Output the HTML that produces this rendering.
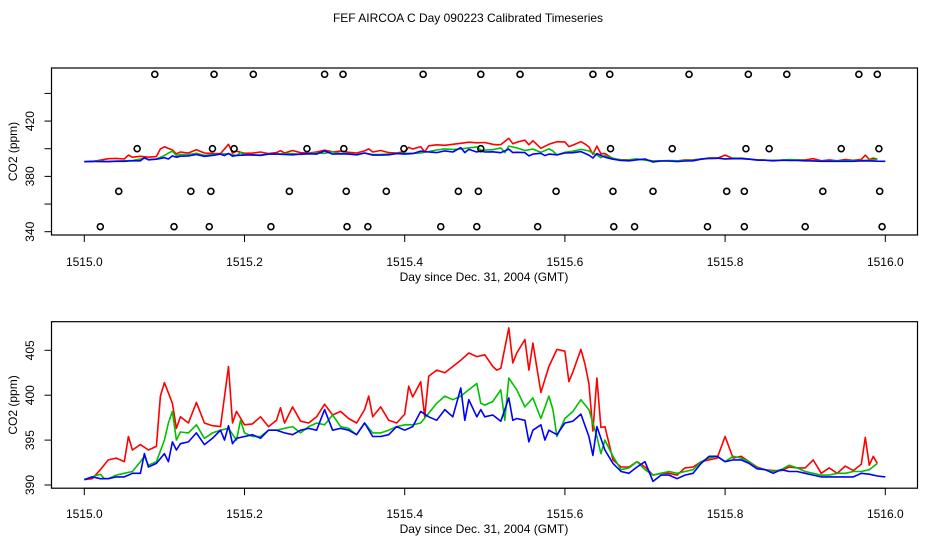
<!DOCTYPE html>
<html><head><meta charset="utf-8"><style>
body{margin:0;background:#fff;}
svg{display:block;font-family:"Liberation Sans",sans-serif;}
</style></head><body>
<svg id="chart" width="936" height="540" viewBox="0 0 936 540">
<text x="468" y="22" text-anchor="middle" font-size="12">FEF AIRCOA C  Day 090223  Calibrated Timeseries</text>
<g id="top"></g>
<g id="bot"></g>
</svg>
<script>
// x tick values
const xTicks = [1515.0, 1515.2, 1515.4, 1515.6, 1515.8, 1516.0];
const topYTicks = [340, 360, 380, 400, 420, 440];
const topYLabels = [340, 380, 420];
const botYTicks = [390, 395, 400, 405];
// flag circles in top panel (day offset from 1515)
const flagDays1 = [.088,.162,.211,.300,.323,.423,.495,.544,.635,.656,.755,.829,.877,.967,.990];
const flagVal1 = 453.8;
const flagDays2 = [.066,.160,.187,.278,.324,.399,.495,.657,.734,.826,.855,.945,.992];
const flagVal2 = 400;
const flagDays3 = [.043,.133,.158,.256,.327,.377,.467,.492,.589,.660,.710,.802,.824,.922,.993];
const flagVal3 = 369.2;
const flagDays4 = [.020,.112,.156,.233,.328,.354,.445,.490,.566,.661,.687,.778,.824,.900,.996];
const flagVal4 = 343.6;
// series (day offset, ppm)
const redDays = [0,.01,.02,.03,.04,.05,.055,.06,.07,.08,.09,.095,.10,.11,.115,.12,.13,.14,.15,.16,.17,.18,.185,.19,.20,.21,.22,.23,.24,.245,.25,.26,.27,.28,.29,.30,.31,.32,.33,.34,.35,.355,.36,.37,.38,.39,.40,.405,.41,.42,.425,.43,.44,.45,.46,.47,.48,.49,
 .50,.51,.515,.52,.53,.535,.54,.55,.555,.56,.57,.58,.59,.60,.605,.61,.62,.625,.63,.635,.64,.645,.65,.66,.67,.68,.69,.70,.71,.72,.73,.74,.75,.76,.77,.78,.79,.80,.81,.82,.83,.84,.85,.86,.87,.88,.89,.90,.91,.92,.93,.94,.95,.96,.97,.975,.98,.985,.99];
const redVals = [390.6,390.7,391.7,392.8,393.0,392.6,395.4,393.9,394.5,393.9,394.3,399.9,401.4,399.1,396.3,397.6,396.9,399.2,396.9,396.6,396.5,403.2,396.9,398.2,396.7,396.8,397.6,396.5,397.2,398.6,396.9,398.7,397.1,396.9,397.6,399.0,397.8,398.2,397.4,396.9,398.4,399.9,397.6,398.7,397.2,396.9,397.9,401.0,399.8,401.5,397.6,402.1,402.8,402.5,403.2,403.9,404.7,404.3,
 404.5,403.2,402.8,403.0,407.5,403.6,404.7,406.2,402.8,405.8,400.3,403.2,405.1,404.9,401.5,402.6,405.1,403.5,401.3,396.0,401.9,396.4,396.5,392.8,392.0,392.0,392.6,392.0,391.1,391.3,391.3,391.1,391.9,392.0,392.6,392.8,393.0,395.4,393.0,393.2,392.6,392.0,391.7,391.6,391.6,392.0,391.9,391.9,392.8,391.3,391.9,391.3,392.1,391.6,392.3,395.3,392.2,393.2,392.4];
const greenDays = [0,.01,.02,.025,.03,.04,.05,.06,.07,.075,.08,.09,.10,.105,.11,.115,.12,.13,.14,.15,.16,.17,.18,.19,.195,.20,.21,.22,.23,.24,.25,.26,.27,.28,.29,.30,.31,.32,.33,.34,.35,.36,.37,.38,.39,.40,.41,.42,.43,.44,.45,.46,.47,.48,.49,.495,
 .50,.51,.52,.525,.53,.54,.55,.56,.57,.58,.585,.59,.60,.61,.62,.63,.64,.645,.65,.66,.67,.68,.69,.70,.71,.72,.73,.74,.75,.76,.77,.78,.79,.80,.81,.82,.83,.84,.85,.86,.87,.88,.89,.90,.91,.92,.93,.94,.95,.96,.97,.98,.99];
const greenVals = [390.6,390.9,391.2,390.7,390.7,391.1,391.3,391.5,392.6,393.2,392.2,392.6,395.0,396.9,398.2,395.0,395.9,395.8,396.7,395.2,395.8,396.1,396.3,395.0,397.2,395.8,395.4,395.4,396.1,396.1,396.3,396.5,395.8,396.5,396.9,396.7,397.8,396.5,396.3,395.6,396.9,395.8,395.8,396.1,396.5,396.7,396.7,396.9,398.0,399.1,399.9,399.5,399.9,400.6,401.3,399.1,
 398.9,399.3,400.6,397.2,401.9,400.6,398.7,399.7,397.4,399.9,398.4,395.4,397.4,398.2,399.5,398.4,395.4,393.5,395.0,393.2,391.7,391.9,392.6,391.7,391.1,391.3,391.5,391.3,391.5,391.7,392.6,393.0,393.2,392.6,393.2,393.0,392.6,391.9,391.7,391.5,391.7,392.2,391.9,391.5,391.3,391.1,391.1,391.3,391.3,391.5,391.5,391.7,392.4];
const blueDays = [0,.01,.02,.03,.04,.05,.06,.07,.075,.08,.09,.10,.105,.11,.115,.12,.13,.14,.15,.16,.17,.175,.18,.185,.19,.20,.21,.22,.23,.24,.25,.26,.27,.28,.29,.30,.31,.32,.33,.34,.35,.36,.37,.38,.39,.40,.41,.42,.43,.44,.45,.46,.47,.475,.48,.49,.495,
 .50,.51,.52,.53,.535,.54,.55,.555,.56,.57,.575,.58,.59,.60,.61,.62,.63,.635,.64,.65,.66,.67,.68,.69,.70,.71,.72,.73,.74,.75,.76,.77,.78,.79,.80,.81,.82,.83,.84,.85,.86,.87,.88,.89,.90,.91,.92,.93,.94,.95,.96,.97,.98,.99,1.0];
const blueVals = [390.6,390.9,390.7,390.7,390.9,390.9,391.3,391.3,393.5,392.0,392.4,393.5,392.6,394.8,393.9,394.6,394.8,395.8,394.5,395.2,396.1,395.0,396.6,394.6,395.2,395.4,395.6,395.2,396.1,396.1,395.8,395.6,396.1,396.3,396.1,398.4,396.1,396.3,396.1,395.6,396.9,395.4,395.4,395.6,396.5,396.1,396.5,398.2,397.6,397.2,398.4,397.6,400.8,397.2,399.5,397.6,398.4,
 397.6,397.8,397.1,399.7,397.2,397.4,397.2,394.8,396.1,396.7,395.0,396.1,395.6,396.9,397.1,397.9,395.4,393.3,396.5,393.9,392.4,391.5,391.3,392.0,392.6,390.4,391.1,391.1,390.7,391.1,391.3,392.4,393.2,393.2,392.6,392.8,392.8,392.4,391.8,391.7,391.3,391.7,391.5,391.5,391.3,391.1,390.9,390.9,390.9,390.9,390.9,391.3,391.2,391.0,390.9];

const NS = 'http://www.w3.org/2000/svg';
function mk(parent, tag, attrs){const e=document.createElementNS(NS,tag);for(const k in attrs)e.setAttribute(k,attrs[k]);parent.appendChild(e);return e;}
const xScale = d => 84.3 + (d - 1515) * 801;
const xOff = d => 84.3 + d * 801;

function panel(g, box, yScale, yTicks, yLabels, xLabelY){
  const r = mk(g,'rect',{x:box.x,y:box.y,width:box.w,height:box.h,fill:'none',stroke:'#000','stroke-width':1.2});
  
  
  const by = box.y + box.h;
  const xa = mk(g,'line',{x1:xScale(1515),x2:xScale(1516),y1:by,y2:by,stroke:'#000'});
  
  
  xTicks.forEach(t=>{
    const l = mk(g,'line',{x1:xScale(t),x2:xScale(t),y1:by,y2:by+7,stroke:'#000'});
    
    
    const tx = mk(g,'text',{x:xScale(t),y:xLabelY,'text-anchor':'middle','font-size':12});
    tx.textContent = t.toFixed(1);
    
    
  });
  const xt = mk(g,'text',{x:484,y:xLabelY+15,'text-anchor':'middle','font-size':12});
  xt.textContent = 'Day since Dec. 31, 2004 (GMT)';
  
  
  const ax = box.x;
  yTicks.forEach(t=>{
    const l = mk(g,'line',{x1:ax-7,x2:ax,y1:yScale(t),y2:yScale(t),stroke:'#000'});
    
    
  });
  yLabels.forEach(t=>{
    const y = yScale(t);
    const tx = mk(g,'text',{x:0,y:0,'text-anchor':'middle','font-size':12,transform:`translate(34,${y}) rotate(-90)`});
    tx.textContent = t;
    
    
  });
  const cy = box.y + box.h/2;
  const yt = mk(g,'text',{x:0,y:0,'text-anchor':'middle','font-size':12,transform:`translate(17,${cy}) rotate(-90)`});
  yt.textContent = 'CO2 (ppm)';
  
  
}
function series(g, days, vals, yScale, color, name){
  const pts = days.map((d,i)=>xOff(d).toFixed(1)+','+yScale(vals[i]).toFixed(1)).join(' ');
  const p = mk(g,'polyline',{points:pts,fill:'none',stroke:color,'stroke-width':1.6,'stroke-linejoin':'round'});
  
  
}

// top panel
const gT = document.getElementById('top');
const yT = v => 231.7 - (v - 340) * 1.383;
panel(gT, {x:51.5,y:68,w:866,h:167}, yT, topYTicks, topYLabels, 266);
series(gT, redDays, redVals, yT, '#ff0000', 'red-series-top');
series(gT, greenDays, greenVals, yT, '#00c000', 'green-series-top');
series(gT, blueDays, blueVals, yT, '#0000ff', 'blue-series-top');
[[flagDays1,flagVal1],[flagDays2,flagVal2],[flagDays3,flagVal3],[flagDays4,flagVal4]].forEach(([ds,v])=>{
  ds.forEach(d=>{
    const c = mk(gT,'circle',{cx:xOff(d),cy:yT(v),r:3,fill:'none',stroke:'#000','stroke-width':1.6});
    
    
  });
});

// bottom panel
const gB = document.getElementById('bot');
const yB = v => 485 - (v - 390) * 8.98;
panel(gB, {x:51.5,y:321.7,w:866,h:166.5}, yB, botYTicks, botYTicks, 518);
series(gB, redDays, redVals, yB, '#ff0000', 'red-series');
series(gB, greenDays, greenVals, yB, '#00c000', 'green-series');
series(gB, blueDays, blueVals, yB, '#0000ff', 'blue-series');
</script>
</body></html>
